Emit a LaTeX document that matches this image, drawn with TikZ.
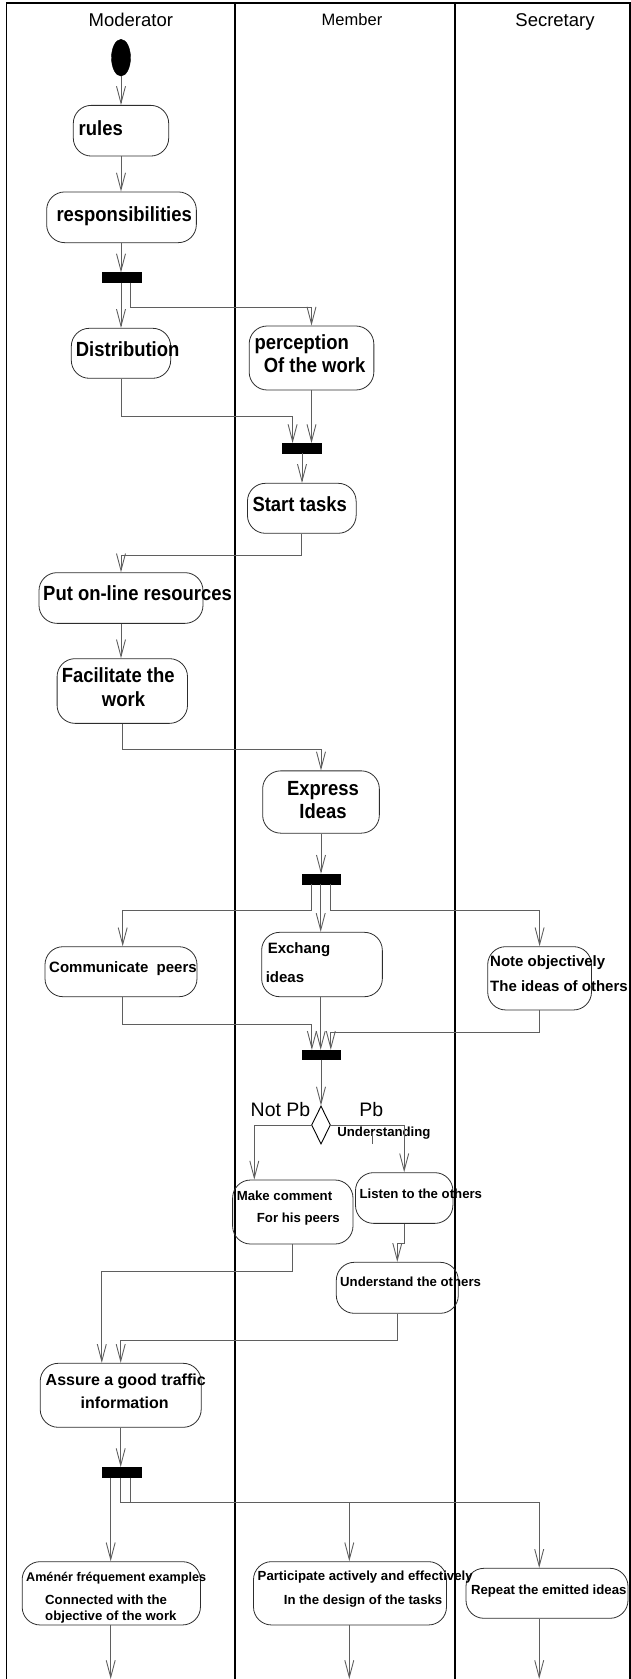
\documentclass[tikz,border=0pt]{standalone}
\usepackage{fontspec}
\setmainfont{Liberation Sans}
\newfontfamily\tallfont[FakeStretch=0.9]{Liberation Sans}
\usetikzlibrary{arrows.meta,shapes.geometric}
\definecolor{lgray}{RGB}{95,95,95}
\definecolor{bgray}{RGB}{45,45,45}
\newcommand\fsz[1]{\fontsize{#1}{#1}\selectfont}
\begin{document}
\begin{tikzpicture}[x=1pt,y=-1pt,
  act/.style={draw=bgray, line width=0.8pt, rounded corners=18pt, inner sep=0pt},
  barnode/.style={fill=black, draw=black, inner sep=0pt, minimum width=39pt, minimum height=9.7pt},
  startnode/.style={ellipse, fill=black, draw=black, inner sep=0pt, minimum width=19pt, minimum height=36.7pt},
  decnode/.style={diamond, draw=black, line width=0.9pt, inner sep=0pt, minimum width=19pt, minimum height=38pt},
  flow/.style={draw=lgray, line width=0.9pt, -{Straight Barb[length=17pt,width=9pt]}},
  lane/.style={draw=black, line width=2pt},
  lb/.style={inner sep=0pt, text height=0.72em, text depth=0pt},
  hdr/.style={lb, font=\fsz{18.5}},
  tA/.style={lb, font=\tallfont\fsz{20.5}\bfseries},
  tB/.style={lb, font=\fsz{16}\bfseries},
  tC/.style={lb, font=\fsz{15}\bfseries},
  tD/.style={lb, font=\fsz{13.2}\bfseries},
  tG/.style={lb, font=\fsz{19.5}}
]
\path[use as bounding box] (0,0) rectangle (631,1679);

% swimlanes
\draw[line width=1.6pt] (6.5,1679) -- (6.5,3) -- (630.2,3) -- (630.2,1679);
\draw[lane] (234.6,3) -- (234.6,1679);
\draw[lane] (454.7,3) -- (454.7,1679);

\node[hdr] (hmod) at (130.8,23.3) {Moderator};
\node[lb, font=\fsz{16.5}] (hmem) at (352,22) {Member};
\node[hdr] (hsec) at (555,23.3) {Secretary};

% activity nodes
\node[startnode] (start) at (121,57.7) {};
\node[act, minimum width=95.4pt, minimum height=50.7pt] (rules) at (121,130.7) {};
\node[act, minimum width=149.7pt, minimum height=50.7pt] (resp) at (121.5,217.3) {};
\node[barnode] (bar1) at (121.3,277.5) {};
\node[act, minimum width=99.4pt, minimum height=50pt] (distr) at (121,353.3) {};
\node[act, minimum width=124.7pt, minimum height=64pt] (perc) at (311.5,358) {};
\node[barnode, minimum height=9.4pt] (bar2) at (302,448) {};
\node[act, minimum width=108.7pt, minimum height=50pt] (tasks) at (301.8,508.3) {};
\node[act, minimum width=164pt, minimum height=50.7pt] (put) at (121,598) {};
\node[act, minimum width=130.4pt, minimum height=64.7pt] (facil) at (122.3,691) {};
\node[act, minimum width=116.7pt, minimum height=62.3pt] (express) at (321,802) {};
\node[barnode, minimum width=38.2pt, minimum height=10pt] (bar3) at (321,879) {};
\node[act, minimum width=152pt, minimum height=50pt] (comm) at (121,971.7) {};
\node[act, minimum width=120.7pt, minimum height=64.4pt] (exch) at (322,964.5) {};
\node[act, minimum width=103.8pt, minimum height=63.3pt] (note) at (539.6,978.3) {};
\node[barnode, minimum width=38.2pt, minimum height=9.3pt] (bar4) at (321,1054.7) {};
\node[decnode] (dec) at (321,1125) {};
\node[act, minimum width=120.4pt, minimum height=64pt] (makec) at (292.8,1212) {};
\node[act, minimum width=97.4pt, minimum height=50.7pt] (listen) at (404.2,1198) {};
\node[act, minimum width=122pt, minimum height=51pt] (underst) at (397.3,1287.8) {};
\node[act, minimum width=161pt, minimum height=64pt] (assure) at (120.7,1395.3) {};
\node[barnode, minimum height=10pt] (bar5) at (121.3,1472.3) {};
\node[act, minimum width=178.3pt, minimum height=63.3pt] (amener) at (111.3,1593.3) {};
\node[act, minimum width=193pt, minimum height=63.3pt] (partic) at (350,1593.3) {};
\node[act, minimum width=162pt, minimum height=50pt] (repeat) at (547,1593.3) {};

% texts
\node[tA, anchor=west] (x1) at (78.5,132) {rules};
\node[tA, anchor=west] (x2) at (56.3,217.5) {responsibilities};
\node[tA, anchor=west] (x3) at (75.7,353.3) {Distribution};
\node[tA, anchor=west] (x4) at (254.3,346) {perception};
\node[tA, anchor=west] (x5) at (263.6,369) {Of the work};
\node[tA, anchor=west] (x6) at (252.3,507.5) {Start tasks};
\node[tA, anchor=west] (x7) at (43,597) {Put on-line resources};
\node[tA, anchor=west] (x8) at (61.6,679) {Facilitate the};
\node[tA] (x9) at (123.5,702.5) {work};
\node[tA] (x10) at (323,791.5) {Express};
\node[tA] (x11) at (323,815) {Ideas};
\node[tC, anchor=west] (x12) at (49,969) {Communicate~ peers};
\node[tC, anchor=west] (x13) at (267.6,950) {Exchang};
\node[tC, anchor=west] (x14) at (265.6,979) {ideas};
\node[tC, anchor=west] (x15) at (490,963) {Note objectively};
\node[tC, anchor=west] (x16) at (490,988) {The ideas of others};
\node[tG] (x17) at (280.5,1113.3) {Not Pb};
\node[tG] (x18) at (371.2,1113.3) {Pb};
\node[tD, anchor=west] (x19) at (337.2,1132.7) {Understanding};
\draw[lgray, line width=0.9pt] (372,1132) -- (372,1144);
\node[tD, anchor=west] (x20) at (236.6,1196.7) {Make comment};
\node[tD, anchor=west] (x21) at (256.7,1219.3) {For his peers};
\node[tD, anchor=west] (x22) at (359.4,1195) {Listen to the others};
\node[tD, anchor=west] (x23) at (340,1283.3) {Understand the others};
\node[tB, anchor=west] (x24) at (45.5,1381.7) {Assure a good traffic};
\node[tB] (x25) at (124.7,1405) {information};
\node[lb, font=\fsz{12.6}\bfseries, anchor=west] (x26) at (26,1578.3) {Aménér fréquement examples};
\node[tD, anchor=west] (x27) at (45,1600.7) {Connected with the};
\node[tD, anchor=west] (x28) at (45,1617.3) {objective of the work};
\node[tD, anchor=west] (x29) at (257.5,1577.3) {Participate actively and effectively};
\node[tD, anchor=west] (x30) at (283.7,1600.7) {In the design of the tasks};
\node[tD, anchor=west] (x31) at (470.8,1590.7) {Repeat the emitted ideas};

% connectors
\draw[flow] (start.south) -- (start.south |- rules.north);
\draw[flow] (rules.south) -- (rules.south |- resp.north);
\draw[flow] (resp.south -| 121,0) -- (bar1.north -| 121,0);
\draw[flow] (bar1.south -| 121,0) -- (distr.north -| 121,0);
\draw[flow] (bar1.south -| 130.8,0) -- ++(0,25) -| (perc.north);
\draw[flow] (distr.south) -- ++(0,38) -| (bar2.north -| 292.6,0);
\draw[flow] (perc.south) -- (perc.south |- bar2.north);
\draw[flow] (bar2.south) -- (bar2.south |- tasks.north);
\draw[flow] (tasks.south) -- ++(0,21.7) -| (put.north);
\draw[flow] (put.south) -- (put.south |- facil.north);
\draw[flow] (facil.south) -- ++(0,26) -| (express.north);
\draw[flow] (express.south) -- (express.south |- bar3.north);
\draw[flow] (bar3.south -| 311.9,0) -- ++(0,26.7) -| (comm.north -| 122.7,0);
\draw[flow] (bar3.south -| 320.7,0) -- (exch.north -| 320.7,0);
\draw[flow] (bar3.south -| 330,0) -- ++(0,26.7) -| (note.north);
\draw[flow] (comm.south -| 122.7,0) -- ++(0,27.3) -| (bar4.north -| 311.9,0);
\draw[flow] (exch.south -| 320.7,0) -- (bar4.north -| 320.7,0);
\draw[flow] (note.south) -- ++(0,22.3) -| (bar4.north -| 330.8,0);
\draw[flow] (bar4.south) -- (bar4.south |- dec.north);
\draw[flow] (dec.west) -| (makec.north -| 254.3,0);
\draw[flow] (dec.east) -| (listen.north);
\draw[flow] (listen.south) -- ++(0,20) -| (underst.north);
\draw[flow] (makec.south -| 292.6,0) -- ++(0,27) -| (assure.north -| 101.8,0);
\draw[flow] (underst.south) -- ++(0,26.7) -| (assure.north);
\draw[flow] (assure.south) -- (assure.south |- bar5.north);
\draw[flow] (bar5.south -| 110.7,0) -- (amener.north -| 110.7,0);
\draw[flow] (bar5.south -| 120.7,0) -- ++(0,25.4) -| (partic.north -| 349.3,0);
\draw[flow] (bar5.south -| 130.8,0) -- ++(0,25.4) -| (repeat.north -| 539.2,0);
\coordinate (eA) at (110.7,1679);
\coordinate (eP) at (349.3,1679);
\coordinate (eR) at (539.2,1679);
\draw[flow] (amener.south -| 110.7,0) -- (eA);
\draw[flow] (partic.south -| 349.3,0) -- (eP);
\draw[flow] (repeat.south -| 539.2,0) -- (eR);
\end{tikzpicture}
\end{document}
